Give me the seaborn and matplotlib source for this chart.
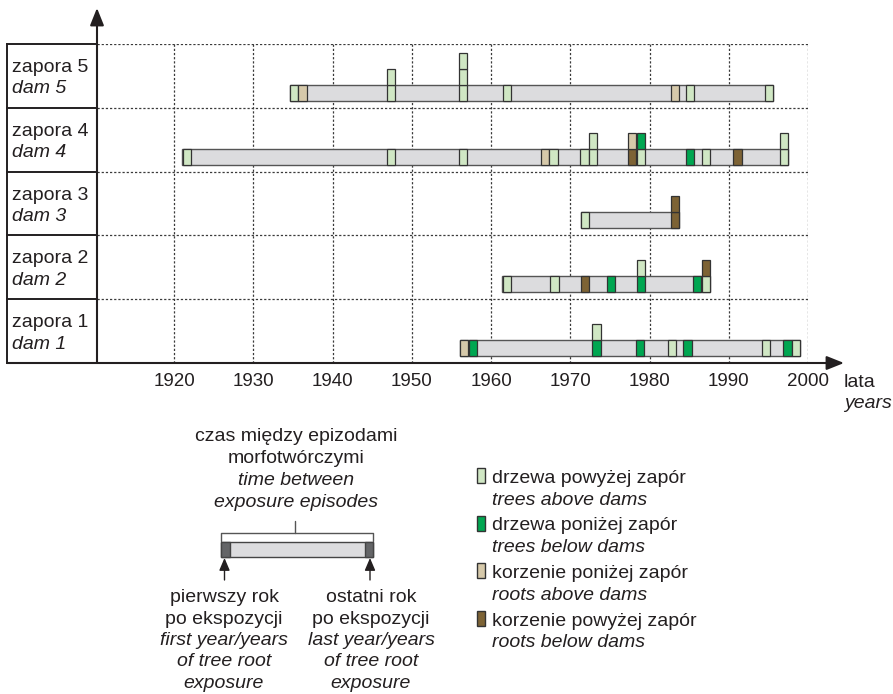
import matplotlib
matplotlib.use("Agg")
import matplotlib.pyplot as plt
import seaborn as sns
import numpy as np

# ---------------- data ----------------
dam_pl = ["zapora 1", "zapora 2", "zapora 3", "zapora 4", "zapora 5"]
dam_en = ["dam 1", "dam 2", "dam 3", "dam 4", "dam 5"]
bar_start = [1956.1, 1961.4, 1971.3, 1921.0, 1934.6]
bar_end = [1999.0, 1987.6, 1983.7, 1997.5, 1995.6]

# marker: dam index (0 = dam 1), centre year, stack level, type
# ta = trees above dams, tb = trees below dams, ra = roots (tan), rb = roots (brown)
marker_dam = [0, 0, 0, 0, 0, 0, 0, 0, 0, 0,
              1, 1, 1, 1, 1, 1, 1, 1, 1,
              2, 2, 2,
              3, 3, 3, 3, 3, 3, 3, 3, 3, 3, 3, 3, 3, 3, 3, 3, 3,
              4, 4, 4, 4, 4, 4, 4, 4, 4, 4, 4]
marker_year = [1956.6, 1957.7, 1973.3, 1973.3, 1978.8, 1982.8, 1984.8, 1994.7, 1997.4, 1998.5,
               1962.0, 1968.0, 1971.9, 1975.1, 1978.9, 1978.9, 1986.0, 1987.1, 1987.1,
               1971.9, 1983.2, 1983.2,
               1921.6, 1947.4, 1956.5, 1966.8, 1967.9, 1971.8, 1972.9, 1972.9, 1977.8, 1977.8,
               1978.9, 1978.9, 1985.1, 1987.1, 1991.1, 1997.0, 1997.0,
               1935.1, 1936.2, 1947.4, 1947.4, 1956.5, 1956.5, 1956.5, 1962.0, 1983.2, 1985.1, 1995.1]
marker_level = [0, 0, 0, 1, 0, 0, 0, 0, 0, 0,
                0, 0, 0, 0, 0, 1, 0, 0, 1,
                0, 0, 1,
                0, 0, 0, 0, 0, 0, 0, 1, 0, 1, 0, 1, 0, 0, 0, 0, 1,
                0, 0, 0, 1, 0, 1, 2, 0, 0, 0, 0]
marker_type = ["ra", "tb", "tb", "ta", "tb", "ta", "tb", "ta", "tb", "ta",
               "ta", "ta", "rb", "tb", "tb", "ta", "tb", "ta", "rb",
               "ta", "rb", "rb",
               "ta", "ta", "ta", "ra", "ta", "ta", "ta", "ta", "rb", "ra", "ta", "tb", "tb", "ta", "rb", "ta", "ta",
               "ta", "ra", "ta", "ta", "ta", "ta", "ta", "ta", "ra", "ta", "ta"]

year_ticks = [1920, 1930, 1940, 1950, 1960, 1970, 1980, 1990, 2000]

legend_types = ["ta", "tb", "ra", "rb"]
legend_pl = ["drzewa powyżej zapór", "drzewa poniżej zapór",
             "korzenie poniżej zapór", "korzenie powyżej zapór"]
legend_en = ["trees above dams", "trees below dams",
             "roots above dams", "roots below dams"]

# ---------------- style ----------------
sns.set_style("white")
plt.rcParams['font.family'] = ['Liberation Sans', 'DejaVu Sans']
plt.rcParams['lines.scale_dashes'] = False

colors = {"ta": "#d0e7c4", "tb": "#00a651", "ra": "#d6c9aa", "rb": "#7d6335"}
txt = "#231f20"
bar_fill = "#dcdcde"
W, H = 893, 694
fig = plt.figure(figsize=(W / 100, H / 100), dpi=100)

# main axes: left edge x=97px, bottom y=363px, right at 2000 (x=808), top y=44
L, R, T, B = 97, 808, 44, 363
ax = fig.add_axes([L / W, 1 - B / H, (R - L) / W, (B - T) / H])
px_per_year = (808 - 174) / 80.0
ax.set_xlim(1920 - (174 - L) / px_per_year, 2000)
ax.set_ylim(0, 5)
for s in ax.spines.values():
    s.set_visible(False)
ax.set_yticks([])
ax.set_xticks(year_ticks)
ax.set_xticklabels([str(y) for y in year_ticks], fontsize=13.5, color=txt)
ax.tick_params(axis='x', length=0, pad=7)
ax.patch.set_alpha(0)

row_px = (B - T) / 5.0
off = 7 / row_px
bh = 16 / row_px

dots = (0, (1.6, 1.4))
ax.vlines(year_ticks, 0, 5, colors="#3a3a3a", linestyles=[dots], lw=0.9, zorder=1)
ax.hlines([1, 2, 3, 4, 5], ax.get_xlim()[0], 2000, colors="#3a3a3a",
          linestyles=[dots], lw=0.9, zorder=1)

# background bars
starts = np.array(bar_start)
ends = np.array(bar_end)
rows = np.arange(5)
ax.barh(rows + off + bh / 2, ends - starts, left=starts, height=bh,
        color=bar_fill, edgecolor="#555555", lw=1.0, zorder=2)

# markers
md = np.array(marker_dam)
my = np.array(marker_year)
ml = np.array(marker_level)
mc = [colors[t] for t in marker_type]
ax.bar(my, bh, bottom=md + off + ml * bh, width=1.05, color=mc,
       edgecolor="#333333", lw=0.9, zorder=3)

# left label boxes (in axes-x / data-y coordinates)
tr = ax.get_yaxis_transform()
xl = (7 - L) / (R - L)
for b in range(6):
    ax.plot([xl, 0], [b, b], color="#231f20", lw=1.4, transform=tr, clip_on=False,
            solid_capstyle='projecting', zorder=5)
ax.plot([xl, xl], [0, 5], color="#231f20", lw=1.4, transform=tr, clip_on=False, zorder=5)
xt = (12.5 - L) / (R - L)
for i in range(5):
    ax.text(xt, i + 0.56, dam_pl[i], transform=tr, fontsize=14, color=txt,
            va='baseline', ha='left')
    ax.text(xt, i + 0.225, dam_en[i], transform=tr, fontsize=14, color=txt,
            va='baseline', ha='left', style='italic')

# ---------------- overlay in pixel coordinates ----------------
ov = fig.add_axes([0, 0, 1, 1])
ov.set_xlim(0, W)
ov.set_ylim(H, 0)
ov.axis('off')
ov.patch.set_alpha(0)

arrow = dict(arrowstyle='-|>,head_length=1.05,head_width=0.42', color="#231f20",
             lw=1.5, shrinkA=0, shrinkB=0, mutation_scale=10)
ov.annotate('', xy=(L, 8), xytext=(L, B), arrowprops=arrow)
ov.annotate('', xy=(844, B), xytext=(7, B), arrowprops=arrow)

ov.text(844, 387, "lata", fontsize=14, color=txt, va='baseline', ha='left')
ov.text(844, 408, "years", fontsize=14, color=txt, va='baseline', ha='left', style='italic')

# schematic explanation
sx0, sx1 = 221, 373
ov.add_patch(plt.Rectangle((sx0, 542), sx1 - sx0, 15, facecolor=bar_fill,
                           edgecolor="#444444", lw=1.0))
ov.add_patch(plt.Rectangle((sx0, 542), 8.5, 15, facecolor="#646567",
                           edgecolor="#444444", lw=1.0))
ov.add_patch(plt.Rectangle((sx1 - 8.5, 542), 8.5, 15, facecolor="#646567",
                           edgecolor="#444444", lw=1.0))
ov.plot([sx0, sx0, sx1, sx1], [541, 532.5, 532.5, 541], color="#555555", lw=1.0)
ov.plot([294.5, 294.5], [521, 532.5], color="#555555", lw=1.0)
small_arrow = dict(arrowstyle='-|>,head_length=0.75,head_width=0.32', color="#231f20",
                   lw=1.0, shrinkA=0, shrinkB=0, mutation_scale=10)
ov.annotate('', xy=(224.5, 558), xytext=(224.5, 580), arrowprops=small_arrow)
ov.annotate('', xy=(370, 558), xytext=(370, 580), arrowprops=small_arrow)

top_lines = [("czas między epizodami", 441, 'normal'),
             ("morfotwórczymi", 463, 'normal'),
             ("time between", 485, 'italic'),
             ("exposure episodes", 507, 'italic')]
for s, yb, st in top_lines:
    ov.text(296, yb, s, fontsize=14, color=txt, va='baseline', ha='center', style=st)

left_lines = ["pierwszy rok", "po ekspozycji", "first year/years", "of tree root", "exposure"]
right_lines = ["ostatni rok", "po ekspozycji", "last year/years", "of tree root", "exposure"]
styles = ['normal', 'normal', 'italic', 'italic', 'italic']
for k in range(5):
    yb = 602 + k * 21.5
    ov.text(224, yb, left_lines[k], fontsize=14, color=txt, va='baseline', ha='center',
            style=styles[k])
    ov.text(371, yb, right_lines[k], fontsize=14, color=txt, va='baseline', ha='center',
            style=styles[k])

# colour legend
for k, t in enumerate(legend_types):
    yb = 483 + k * 47.5
    ov.add_patch(plt.Rectangle((476.5, yb - 15), 8.5, 15, facecolor=colors[t],
                               edgecolor="#333333", lw=1.0))
    ov.text(491.5, yb, legend_pl[k], fontsize=14, color=txt, va='baseline', ha='left')
    ov.text(491.5, yb + 21.5, legend_en[k], fontsize=14, color=txt, va='baseline',
            ha='left', style='italic')

fig.savefig("out.png", dpi=100)
